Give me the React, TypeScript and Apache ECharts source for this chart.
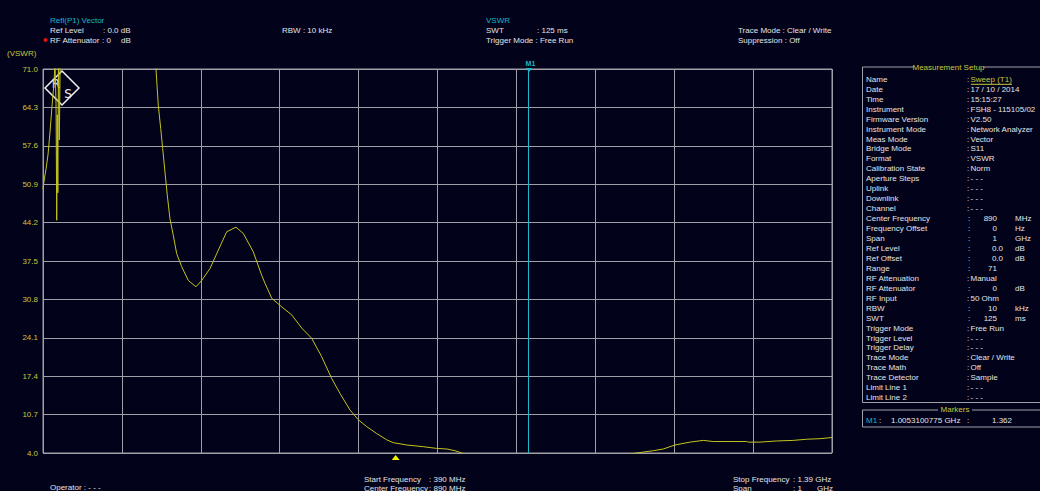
import React, { useEffect, useRef } from "react";
import * as echarts from "echarts";

// ---- axis ranges ----
const START_MHZ = 390;
const STOP_MHZ = 1390;
const X_STEP_MHZ = 100;
const Y_MIN = 4.0;
const Y_MAX = 71.0;
const Y_STEP = 6.7;

// ---- trace (frequency in MHz, VSWR) ----
const FREQ_MHZ = [
  390.0, 391.9, 393.8, 396.3, 398.9, 401.4, 403.9, 405.2, 406.5, 407.4, 408.1, 408.8, 409.6, 410.7, 412.2,
  460, 500, 529.4, 533.2, 536.1, 539.2, 541.7, 544.6, 547.5, 550.9, 555.1, 559.4, 565.8, 574.2, 583.9,
  591.1, 601.7, 612.2, 622.8, 634.6, 643.9, 656.5, 667.2, 671.4, 679.9, 692.5, 705.2, 717.9, 730.6,
  743.2, 755.9, 766.4, 779.1, 789.6, 800.3, 812.9, 825.6, 834.0, 851.0, 872.0, 889.0, 901.7, 912.2,
  920.7, 940, 970, 1005.3, 1040, 1080, 1120, 1142.5, 1163.5, 1176.2, 1191.0, 1210.0, 1226.9, 1239.5,
  1281.9, 1283.9, 1298.7, 1319.9, 1340.9, 1358.0, 1374.8, 1390.0,
];
const VSWR = [
  50.1, 52.0, 53.5, 56.0, 60.0, 64.5, 68.5, 72, 65, 44.6, 63, 49.4, 75, 58.6, 78,
  95, 92, 79, 71.0, 64.7, 60.6, 57.1, 53.0, 49.0, 44.9, 42.0, 38.8, 36.5, 34.1, 33.0,
  34.1, 36.2, 39.4, 42.6, 43.4, 42.3, 39.1, 35.0, 33.6, 31.0, 29.5, 28.1, 25.8, 24.0,
  20.8, 17.0, 14.4, 11.5, 9.8, 8.6, 7.4, 6.3, 5.8, 5.4, 5.1, 4.8, 4.7, 4.4,
  4.0, 3.0, 1.9, 1.362, 1.9, 2.8, 3.5, 4.0, 4.4, 4.7, 5.4, 5.9, 6.2, 6.0,
  6.0, 5.9, 5.9, 6.1, 6.2, 6.4, 6.5, 6.7,
];

// ---- markers ----
const M1_FREQ_MHZ = 1005.3100775;
const M1_VSWR = "1.362";
const M1_FREQ_TEXT = "1.0053100775 GHz";
const YELLOW_TRIANGLE_MHZ = 837;

// ---- header texts ----
const TITLE_LEFT = "Refl(P1) Vector";
const TITLE_MID = "VSWR";
const REF_LEVEL = ["Ref Level", ": 0.0 dB"];
const RF_ATT = ["RF Attenuator", ": 0", "dB"];
const RBW_TEXT = "RBW : 10 kHz";
const SWT = ["SWT", ": 125 ms"];
const TRIGGER_TEXT = "Trigger Mode : Free Run";
const HEADER_RIGHT = ["Trace Mode : Clear / Write", "Suppression : Off"];
const Y_UNIT = "(VSWR)";

// ---- footer texts ----
const FOOT_START = ["Start Frequency", "Center Frequency"];
const FOOT_START_VALUES = [": 390 MHz", ": 890 MHz"];
const FOOT_STOP = ["Stop Frequency", "Span"];
const FOOT_STOP_VALUES = [": 1.39 GHz", ": 1"];
const FOOT_STOP_UNIT = "GHz";
const OPERATOR_TEXT = "Operator : - - -";

// ---- measurement setup panel ----
const SETUP_LABELS = [
  "Name", "Date", "Time", "Instrument", "Firmware Version", "Instrument Mode", "Meas Mode", "Bridge Mode",
  "Format", "Calibration State", "Aperture Steps", "Uplink", "Downlink", "Channel", "Center Frequency",
  "Frequency Offset", "Span", "Ref Level", "Ref Offset", "Range", "RF Attenuation", "RF Attenuator",
  "RF Input", "RBW", "SWT", "Trigger Mode", "Trigger Level", "Trigger Delay", "Trace Mode", "Trace Math",
  "Trace Detector", "Limit Line 1", "Limit Line 2",
];
// string = text value, [number, unit] = numeric value
const SETUP_VALUES: (string | [string, string])[] = [
  "Sweep (T1)", "17 / 10 / 2014", "15:15:27", "FSH8 - 115105/02", "V2.50", "Network Analyzer", "Vector", "S11",
  "VSWR", "Norm", "- - -", "- - -", "- - -", "- - -", ["890", "MHz"],
  ["0", "Hz"], ["1", "GHz"], ["0.0", "dB"], ["0.0", "dB"], ["71", ""], "Manual", ["0", "dB"],
  "50 Ohm", ["10", "kHz"], ["125", "ms"], "Free Run", "- - -", "- - -", "Clear / Write", "Off",
  "Sample", "- - -", "- - -",
];

const FONT = "'Liberation Sans',Arial,sans-serif";
const BG = "#02021a";
const WHITE = "#e4e4e4";
const CYAN = "#18b8c8";
const YELLOW = "#c8c83a";
const GRID = "#a0a0a8";
const TRACE = "#c4c41e";

function txt(x: number, y: number, text: string, fill: string, size = 8, align = "left", extra: any = {}) {
  return {
    type: "text",
    x,
    y,
    silent: true,
    style: { text, fill, fontSize: size, fontFamily: FONT, align, verticalAlign: "middle", ...extra },
  };
}
function ln(x1: number, y1: number, x2: number, y2: number, stroke: string, w = 1) {
  return { type: "line", silent: true, shape: { x1, y1, x2, y2 }, style: { stroke, lineWidth: w } };
}

export default function App() {
  const ref = useRef<HTMLDivElement>(null);

  useEffect(() => {
    if (!ref.current) return;
    const chart = echarts.init(ref.current, null, { renderer: "svg" });
    const data = FREQ_MHZ.map((f, i) => [f - START_MHZ, VSWR[i] - Y_MIN]);

    chart.setOption({
      animation: false,
      backgroundColor: BG,
      grid: {
        left: 43, top: 69, width: 789, height: 384, show: true,
        borderColor: GRID, borderWidth: 1, backgroundColor: BG,
      },
      xAxis: {
        type: "value", min: 0, max: STOP_MHZ - START_MHZ, interval: X_STEP_MHZ,
        axisLine: { show: false }, axisTick: { show: false }, axisLabel: { show: false },
        splitLine: { show: true, lineStyle: { color: GRID, width: 1 } },
      },
      yAxis: {
        type: "value", min: 0, max: Y_MAX - Y_MIN, interval: Y_STEP,
        axisLine: { show: false }, axisTick: { show: false },
        axisLabel: {
          color: YELLOW, fontSize: 8, fontFamily: FONT, margin: 5,
          formatter: (v: number) => (v + Y_MIN).toFixed(1),
        },
        splitLine: { show: true, lineStyle: { color: GRID, width: 1 } },
      },
      series: [
        {
          type: "line", data, showSymbol: false, clip: true,
          lineStyle: { color: TRACE, width: 1 },
          markLine: {
            silent: true, symbol: "none", label: { show: false },
            lineStyle: { color: CYAN, width: 1, type: "solid" },
            data: [{ xAxis: M1_FREQ_MHZ - START_MHZ }],
          },
        },
      ],
    });

    const m1x = chart.convertToPixel({ gridIndex: 0 }, [M1_FREQ_MHZ - START_MHZ, 0])[0] as number;
    const triX = chart.convertToPixel({ gridIndex: 0 }, [YELLOW_TRIANGLE_MHZ - START_MHZ, 0])[0] as number;

    const g: any[] = [];
    // header
    g.push(txt(50, 20, TITLE_LEFT, CYAN));
    g.push(txt(50, 30, REF_LEVEL[0], WHITE));
    g.push(txt(103, 30, REF_LEVEL[1], WHITE));
    g.push({ type: "circle", silent: true, shape: { cx: 45.5, cy: 40, r: 2 }, style: { fill: "#e01010" } });
    g.push(txt(50, 40, RF_ATT[0], WHITE));
    g.push(txt(102, 40, RF_ATT[1], WHITE));
    g.push(txt(121, 40, RF_ATT[2], WHITE));
    g.push(txt(282, 30, RBW_TEXT, WHITE));
    g.push(txt(486, 20, TITLE_MID, CYAN));
    g.push(txt(486, 30, SWT[0], WHITE));
    g.push(txt(537, 30, SWT[1], WHITE));
    g.push(txt(486, 40, TRIGGER_TEXT, WHITE));
    g.push(txt(738, 30, HEADER_RIGHT[0], WHITE));
    g.push(txt(738, 40, HEADER_RIGHT[1], WHITE));
    g.push(txt(7, 53, Y_UNIT, YELLOW));

    // M1 marker label + triangle
    g.push(txt(m1x + 2, 63, "M1", CYAN, 7, "center", { fontWeight: "bold" }));
    g.push({
      type: "polygon", silent: true,
      shape: { points: [[m1x - 3, 68], [m1x + 4, 68], [m1x + 0.5, 72]] },
      style: { fill: CYAN },
    });
    // yellow triangle below axis
    g.push({
      type: "polygon", silent: true,
      shape: { points: [[triX - 4, 460], [triX + 4, 460], [triX, 455]] },
      style: { fill: "#f0f000" },
    });

    // R&S logo
    g.push({
      type: "polygon", silent: true,
      shape: { points: [[62, 71], [79, 88], [62, 105], [45, 88]] },
      style: { fill: "none", stroke: "#f0f0f0", lineWidth: 1.5 },
    });
    g.push(txt(56, 84, "R", "#f0f0f0", 12, "center", { fontFamily: "DejaVu Sans" }));
    g.push(txt(68, 94, "S", "#f0f0f0", 12, "center", { fontFamily: "DejaVu Sans" }));

    // footer
    g.push(txt(364, 479, FOOT_START[0], WHITE));
    g.push(txt(429, 479, FOOT_START_VALUES[0], WHITE));
    g.push(txt(364, 488, FOOT_START[1], WHITE));
    g.push(txt(429, 488, FOOT_START_VALUES[1], WHITE));
    g.push(txt(733, 479, FOOT_STOP[0], WHITE));
    g.push(txt(793, 479, FOOT_STOP_VALUES[0], WHITE));
    g.push(txt(733, 488, FOOT_STOP[1], WHITE));
    g.push(txt(793, 488, FOOT_STOP_VALUES[1], WHITE));
    g.push(txt(817, 488, FOOT_STOP_UNIT, WHITE));
    g.push(txt(50, 487, OPERATOR_TEXT, WHITE));

    // setup panel frame
    g.push(ln(862.5, 67, 914, 67, GRID));
    g.push(ln(983, 67, 1040, 67, GRID));
    g.push(ln(862.5, 67, 862.5, 402.5, GRID));
    g.push(ln(862.5, 402.5, 1040, 402.5, GRID));
    g.push(txt(948.5, 67, "Measurement Setup", YELLOW, 8, "center"));
    SETUP_LABELS.forEach((lab, i) => {
      const y = 79.3 + i * 9.95;
      g.push(txt(866, y, lab, WHITE));
      const v = SETUP_VALUES[i];
      if (typeof v === "string") {
        g.push(txt(967, y, ":", WHITE));
        g.push(txt(970.5, y, v, i === 0 ? YELLOW : WHITE));
        if (i === 0) g.push(ln(971, y + 5, 1012, y + 5, YELLOW));
      } else {
        g.push(txt(968, y, ":", WHITE));
        const rx = v[0].includes(".") ? 1003 : 997;
        g.push(txt(rx, y, v[0], WHITE, 8, "right"));
        if (v[1]) g.push(txt(1015, y, v[1], WHITE));
      }
    });

    // markers box
    g.push(ln(862.5, 410, 938, 410, GRID));
    g.push(ln(972, 410, 1040, 410, GRID));
    g.push(ln(862.5, 410, 862.5, 427, GRID));
    g.push(ln(862.5, 427, 1040, 427, GRID));
    g.push(txt(955, 409, "Markers", YELLOW, 8, "center"));
    g.push(txt(866, 420, "M1", CYAN));
    g.push(txt(879, 420, ":", WHITE));
    g.push(txt(891, 420, M1_FREQ_TEXT, WHITE));
    g.push(txt(967, 420, ":", WHITE));
    g.push(txt(1012, 420, M1_VSWR, WHITE, 8, "right"));

    chart.setOption({ graphic: { elements: g } });

    return () => chart.dispose();
  }, []);

  return (
    <div
      ref={ref}
      style={{ position: "fixed", left: 0, top: 0, width: 1040, height: 491, background: BG }}
    />
  );
}
